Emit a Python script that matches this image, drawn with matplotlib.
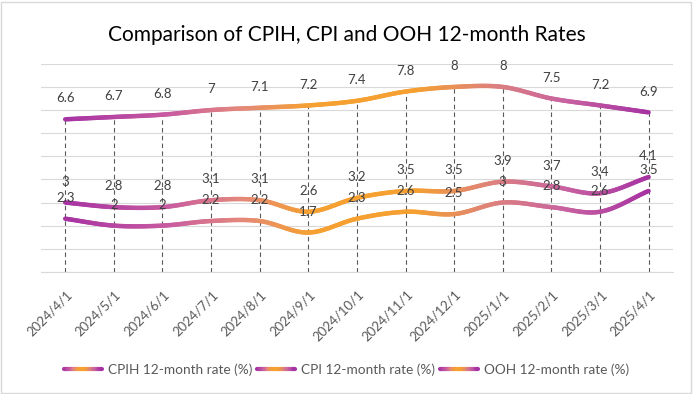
import numpy as np
import matplotlib
matplotlib.use("Agg")
import matplotlib.pyplot as plt
from matplotlib.collections import LineCollection
from matplotlib.colors import LinearSegmentedColormap
from matplotlib.legend_handler import HandlerBase
from matplotlib.lines import Line2D
from matplotlib.patches import Rectangle
import matplotlib.transforms as mtransforms

plt.rcParams["font.family"] = ["Lato", "DejaVu Sans"]

# Data
dates = ["2024/4/1", "2024/5/1", "2024/6/1", "2024/7/1", "2024/8/1", "2024/9/1",
         "2024/10/1", "2024/11/1", "2024/12/1", "2025/1/1", "2025/2/1", "2025/3/1", "2025/4/1"]
cpih = [3, 2.8, 2.8, 3.1, 3.1, 2.6, 3.2, 3.5, 3.5, 3.9, 3.7, 3.4, 4.1]
cpi = [2.3, 2, 2, 2.2, 2.2, 1.7, 2.3, 2.6, 2.5, 3, 2.8, 2.6, 3.5]
ooh = [6.6, 6.7, 6.8, 7, 7.1, 7.2, 7.4, 7.8, 8, 8, 7.5, 7.2, 6.9]
series_names = ["CPIH 12-month rate (%)", "CPI 12-month rate (%)", "OOH 12-month rate (%)"]

purple = "#A733A3"
orange = "#F5A030"
cmap = LinearSegmentedColormap.from_list(
    "grad", [(0, purple), (0.18, "#C95CA0"), (0.3, "#E4887C"), (0.42, orange),
             (0.6, orange), (0.74, "#DC8080"), (0.86, "#C862A0"), (1, purple)])

text_col = "#404040"


def smooth(y, n=24):
    # Catmull-Rom style smoothing similar to Excel's smoothed line
    y = np.asarray(y, float)
    x = np.arange(len(y), dtype=float)
    p = np.concatenate([[2 * y[0] - y[1]], y, [2 * y[-1] - y[-2]]])
    xs, ys = [], []
    for i in range(len(y) - 1):
        p0, p1, p2, p3 = p[i], p[i + 1], p[i + 2], p[i + 3]
        t = np.linspace(0, 1, n, endpoint=False)
        yy = 0.5 * ((2 * p1) + (-p0 + p2) * t + (2 * p0 - 5 * p1 + 4 * p2 - p3) * t ** 2
                    + (-p0 + 3 * p1 - 3 * p2 + p3) * t ** 3)
        xs.append(x[i] + t)
        ys.append(yy)
    xs.append([x[-1]])
    ys.append([y[-1]])
    return np.concatenate(xs), np.concatenate(ys)


def gradient_line(ax, y):
    xs, ys = smooth(y)
    pts = np.column_stack([xs, ys]).reshape(-1, 1, 2)
    segs = np.concatenate([pts[:-1], pts[1:]], axis=1)
    lc = LineCollection(segs, cmap=cmap, linewidth=3.2, capstyle="round", zorder=3)
    lc.set_array(xs[:-1] / (len(y) - 1))
    lc.set_clim(0, 1)
    ax.add_collection(lc)


class GradientHandler(HandlerBase):
    def create_artists(self, legend, orig_handle, xdescent, ydescent, width, height, fontsize, trans):
        xs = np.linspace(-xdescent, width - xdescent, 30)
        yv = height / 2 - ydescent
        pts = np.column_stack([xs, np.full_like(xs, yv)]).reshape(-1, 1, 2)
        segs = np.concatenate([pts[:-1], pts[1:]], axis=1)
        lc = LineCollection(segs, colors=cmap(np.linspace(0, 1, len(segs))),
                            linewidth=3, capstyle="round", transform=trans)
        return [lc]


fig = plt.figure(figsize=(6.93, 3.94), dpi=100)
ax = fig.add_axes([0.059, 0.310, 0.912, 0.528])

x = np.arange(len(dates))

# drop lines
top = np.max([cpih, cpi, ooh], axis=0)
ax.vlines(x, 0, top, colors="#595959", linestyles=(0, (4, 3)), linewidth=0.8, zorder=2)

for s in [cpih, cpi, ooh]:
    gradient_line(ax, s)
    for xi, v in zip(x, s):
        ax.annotate(f"{v:g}", (xi, v), xytext=(0, 15), textcoords="offset points",
                    ha="center", va="center", fontsize=9.5, color=text_col, zorder=4)

ax.set_xlim(-0.5, len(dates) - 0.5)
ax.set_ylim(0, 9)
ax.set_yticks(np.arange(0, 10, 1))
ax.yaxis.grid(True, color="#D9D9D9", linewidth=0.8)
ax.set_axisbelow(True)
ax.tick_params(axis="y", left=False, labelleft=False)
ax.tick_params(axis="x", length=0, pad=15)
ax.set_xticks(x)
ax.set_xticklabels(dates, rotation=45, ha="right", va="center", rotation_mode="anchor",
                   fontsize=9.5, color="#595959")
offset = mtransforms.ScaledTranslation(5 / 100, 0, fig.dpi_scale_trans)
for lbl in ax.get_xticklabels():
    lbl.set_transform(lbl.get_transform() + offset)
for sp in ["top", "right", "left"]:
    ax.spines[sp].set_visible(False)
ax.spines["bottom"].set_color("#D9D9D9")

fig.text(0.5, 0.91, "Comparison of CPIH, CPI and OOH 12-month Rates", ha="center", va="center",
         fontsize=15, color="black")

handles = [Line2D([], []) for _ in series_names]
fig.legend(handles, series_names, loc="center", bbox_to_anchor=(0.5, 0.062), ncol=3,
           frameon=False, fontsize=9.8, labelcolor="#595959", handlelength=2.8,
           handletextpad=0.4, columnspacing=0.4,
           handler_map={Line2D: GradientHandler()})

fig.patches.append(Rectangle((0.002, 0.003), 0.995, 0.993, transform=fig.transFigure,
                             fill=False, edgecolor="#D9D9D9", linewidth=1))

fig.savefig("out.png", dpi=100)
